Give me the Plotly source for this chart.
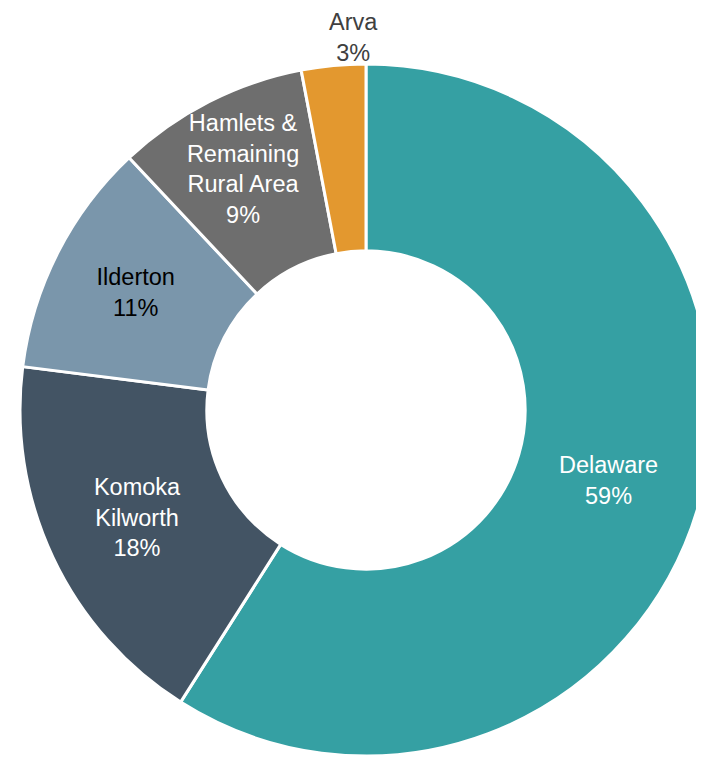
import plotly.graph_objects as go

# ---------------------------------------------------------------------------
# Data
# ---------------------------------------------------------------------------

AREAS = ["Delaware", "Komoka<br>Kilworth", "Ilderton",
         "Hamlets &<br>Remaining<br>Rural Area", "Arva"]
SHARES = [59, 18, 11, 9, 3]

COLORS = ["#35A0A3", "#435464", "#7A96AB", "#6E6E6E", "#E3982F"]
TEXT_COLORS = ["white", "white", "black", "white", "#404040"]
# the tiny Arva slice gets its label above the ring instead
TEXT_POS = ["inside", "inside", "inside", "inside", "none"]

FONT_FAMILY = "'Liberation Sans', Arial, Helvetica, sans-serif"
FONT_SIZE = 23.5

# figure size and ring geometry (pixels, figure coordinates)
W, H = 704, 761
CX, CY, R = 358, 402, 346

fig = go.Figure(
    go.Pie(
        labels=AREAS,
        values=SHARES,
        sort=False,
        direction="clockwise",
        rotation=0,
        hole=0.46,
        marker=dict(colors=COLORS, line=dict(color="white", width=3)),
        texttemplate="%{label}<br>%{value}%",
        textposition=TEXT_POS,
        insidetextorientation="horizontal",
        textfont=dict(family=FONT_FAMILY, size=FONT_SIZE, color=TEXT_COLORS),
        domain=dict(
            x=[(CX - R) / W, min(1, (CX + R) / W)],
            y=[(H - CY - R) / H, (H - CY + R) / H],
        ),
        showlegend=False,
        hoverinfo="label+percent",
    )
)

# outside label for the small slice, centred just above it
fig.add_annotation(
    text=f"{AREAS[-1]}<br>{SHARES[-1]}%",
    x=345 / W,
    y=1,
    xref="paper",
    yref="paper",
    xanchor="center",
    yanchor="top",
    showarrow=False,
    borderpad=0,
    font=dict(family=FONT_FAMILY, size=FONT_SIZE, color=TEXT_COLORS[-1]),
)

fig.update_layout(
    width=W,
    height=H,
    margin=dict(l=0, r=0, t=0, b=0),
    paper_bgcolor="white",
    plot_bgcolor="white",
    font=dict(family=FONT_FAMILY),
    # keep every slice label at full size, like the source chart
    uniformtext=dict(minsize=FONT_SIZE, mode="show"),
)

fig.write_html("out.html")
